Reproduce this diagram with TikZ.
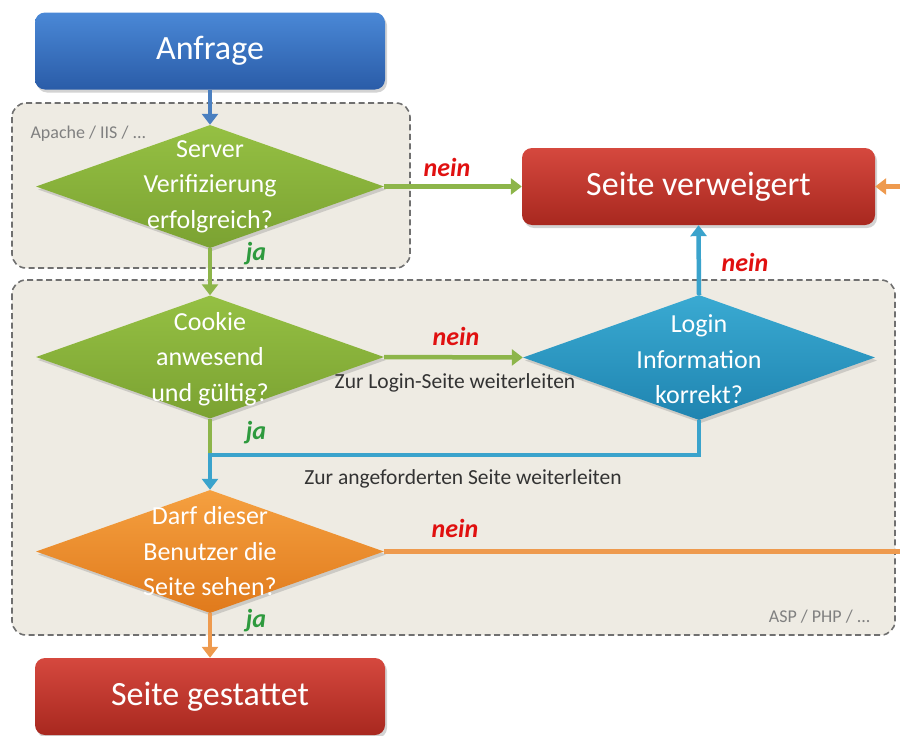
\documentclass[tikz,border=0pt]{standalone}
\usepackage{fontspec}
\setmainfont{Carlito}
\usetikzlibrary{arrows.meta,shapes.geometric,shadows}
\definecolor{bgbox}{HTML}{EEEBE3}
\definecolor{dashgray}{HTML}{707070}
\definecolor{blueT}{HTML}{4A88D6}
\definecolor{blueB}{HTML}{2A5CA8}
\definecolor{blueLine}{HTML}{4A7FC0}
\definecolor{redT}{HTML}{D5483E}
\definecolor{redB}{HTML}{A8281F}
\definecolor{greenT}{HTML}{95C043}
\definecolor{greenB}{HTML}{7BA232}
\definecolor{greenLine}{HTML}{8DB54A}
\definecolor{cyanT}{HTML}{3AAAD2}
\definecolor{cyanB}{HTML}{1F84B0}
\definecolor{cyanLine}{HTML}{3AA3CC}
\definecolor{orangeT}{HTML}{F5A040}
\definecolor{orangeB}{HTML}{E07A1C}
\definecolor{orangeLine}{HTML}{EE9A4E}
\definecolor{neinred}{HTML}{E01010}
\definecolor{jagreen}{HTML}{2E9A3E}
\definecolor{labelgray}{HTML}{333333}
\tikzset{
  rbox/.style={rectangle, rounded corners=10pt, draw=none, text=white,
    minimum width=350pt, minimum height=77pt, inner sep=0pt,
    drop shadow={opacity=0.35, shadow xshift=2pt, shadow yshift=-3pt},
    font=\fontsize{34}{40}\selectfont},
  dia/.style={diamond, shape aspect=2.83, draw=none, inner sep=0pt,
    minimum width=348pt, minimum height=123pt,
    drop shadow={opacity=0.3, shadow xshift=2pt, shadow yshift=-3pt}},
  diatext/.style={text=white, align=center, inner sep=0pt,
    font=\fontsize{26}{35.5}\selectfont},
  area/.style={draw=dashgray, dashed, dash pattern=on 6pt off 3.5pt, line width=1.6pt,
    fill=bgbox, rounded corners=14pt},
  conn/.style={line width=4.5pt},
  tip/.style={-{Triangle[width=16pt,length=11pt]}},
  nein/.style={text=neinred, font=\fontsize{26}{28}\selectfont\bfseries\itshape},
  ja/.style={text=jagreen, font=\fontsize{26}{28}\selectfont\bfseries\itshape},
  note/.style={text=labelgray, font=\fontsize{21.5}{24}\selectfont},
  tag/.style={text=gray, font=\fontsize{18}{20}\selectfont},
}
\begin{document}
\begin{tikzpicture}[x=1pt,y=-1pt]
\useasboundingbox (0,0) rectangle (900,736);
% areas
\draw[area] (12,103) rectangle (410,268);
\draw[area] (12,280) rectangle (895,635);
\node[tag, anchor=west] (apache) at (27,134) {Apache / IIS / ...};
\node[tag, anchor=east] (asp) at (874,617) {ASP / PHP / ...};
% nodes
\node[rbox, top color=blueT, bottom color=blueB] (req) at (210,51) {Anfrage};
\node[rbox, top color=redT, bottom color=redB, minimum width=353pt] (deny) at (698.5,186.5) {Seite verweigert};
\node[rbox, top color=redT, bottom color=redB] (allow) at (210,696.5) {Seite gestattet};
\node[dia, top color=greenT, bottom color=greenB] (srv) at (210,186.5) {};
\node[diatext] (srvT) at (srv.center) {Server\\Verifizierung\\erfolgreich?};
\node[dia, top color=greenT, bottom color=greenB] (cookie) at (210,357) {};
\node[diatext] (cookieT) at ([yshift=-2pt]cookie.center) {Cookie\\anwesend\\und gültig?};
\node[dia, top color=cyanT, bottom color=cyanB, minimum width=352pt, minimum height=125pt] (login) at (699,357.5) {};
\node[diatext] (loginT) at ([yshift=-2pt]login.center) {Login\\Information\\korrekt?};
\node[dia, top color=orangeT, bottom color=orangeB] (perm) at (210,551.5) {};
\node[diatext] (permT) at (perm.center) {Darf dieser\\Benutzer die\\Seite sehen?};
% helper coordinates
\coordinate (j1) at (699,455);
\coordinate (j2) at (210,455);
\coordinate (edgeA) at (900,551.5);
\coordinate (edgeB) at (900,186.5);
% connectors
\draw[conn, blueLine, tip] (req.south) -- (srv.north);
\draw[conn, greenLine, tip] (srv.east) -- (deny.west);
\draw[conn, greenLine, tip] (srv.south) -- (cookie.north);
\draw[conn, greenLine, tip] (cookie.east) -- (login.west);
\draw[conn, cyanLine, tip] (login.north) -- (deny.south);
\draw[conn, greenLine] (cookie.south) -- (j2);
\draw[conn, cyanLine, tip] (login.south) -- (j1) -- (j2) -- (perm.north);
\draw[conn, orangeLine] (perm.east) -- (edgeA);
\draw[conn, orangeLine, tip] (edgeB) -- (deny.east);
\draw[conn, orangeLine, tip] (perm.south) -- (allow.north);
% labels
\node[nein] (n1) at (447,167) {nein};
\node[ja] (y1) at (256,254) {ja};
\node[nein] (n2) at (456,336) {nein};
\node[note] (l1) at (455,383) {Zur Login-Seite weiterleiten};
\node[nein] (n3) at (745,262) {nein};
\node[ja] (y2) at (256,433) {ja};
\node[note] (l2) at (463,479) {Zur angeforderten Seite weiterleiten};
\node[nein] (n4) at (455,528) {nein};
\node[ja] (y3) at (256,621) {ja};
\end{tikzpicture}
\end{document}
